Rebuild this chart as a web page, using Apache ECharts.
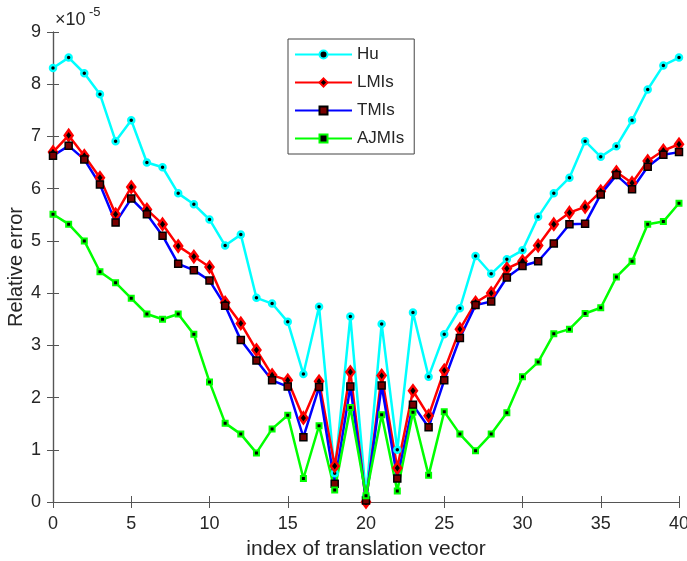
<!DOCTYPE html>
<html>
<head>
<meta charset="utf-8">
<script src="https://cdn.jsdelivr.net/npm/echarts@6/dist/echarts.min.js"></script>
<style>html,body{margin:0;padding:0;background:#fff;}#c{width:687px;height:561px;}</style>
</head>
<body>
<div id="c"></div>
<script>
var xIndex = [];
for (var i = 0; i <= 40; i++) xIndex.push(i);
var hu    = [8.31,8.51,8.21,7.81,6.91,7.31,6.50,6.41,5.91,5.70,5.41,4.91,5.12,3.91,3.80,3.45,2.45,3.74,0.55,3.55,0.10,3.41,1.00,3.63,2.40,3.21,3.71,4.71,4.37,4.65,4.82,5.46,5.91,6.21,6.91,6.61,6.81,7.31,7.90,8.36,8.51];
var lmis  = [6.70,7.02,6.63,6.21,5.51,6.03,5.60,5.32,4.90,4.70,4.50,3.82,3.42,2.91,2.43,2.33,1.61,2.31,0.69,2.49,0.00,2.42,0.65,2.13,1.65,2.52,3.31,3.82,4.00,4.47,4.61,4.91,5.32,5.54,5.65,5.95,6.32,6.11,6.53,6.73,6.85];
var tmis  = [6.63,6.82,6.56,6.08,5.35,5.81,5.51,5.10,4.56,4.44,4.24,3.76,3.10,2.71,2.33,2.21,1.24,2.20,0.35,2.21,0.03,2.23,0.45,1.86,1.43,2.33,3.14,3.77,3.84,4.30,4.52,4.61,4.95,5.32,5.33,5.89,6.26,5.99,6.42,6.65,6.70];
var ajmis = [5.51,5.32,5.00,4.41,4.20,3.90,3.60,3.50,3.60,3.21,2.30,1.51,1.30,0.94,1.40,1.66,0.45,1.46,0.23,1.81,0.12,1.67,0.21,1.72,0.51,1.73,1.30,0.98,1.30,1.71,2.40,2.68,3.22,3.31,3.61,3.72,4.31,4.61,5.32,5.37,5.72];
var seriesNames = ['Hu','LMIs','TMIs','AJMIs'];

var FONT = 'Liberation Sans';
var TXT = '#262626';
var AX = '#555';
function pts(arr){ return arr.map(function(v,i){ return [xIndex[i], v]; }); }

var chart = echarts.init(document.getElementById('c'));
var axisBase = {
  axisLine:{show:true,lineStyle:{color:AX,width:1.2}},
  axisTick:{show:true,inside:true,length:6,lineStyle:{color:AX}},
  splitLine:{show:false}
};
chart.setOption({
  animation:false,
  backgroundColor:'#fff',
  grid:{left:53,right:8,top:32,bottom:59,containLabel:false,outerBoundsMode:'none'},
  graphic:[
    {type:'text',left:55,top:11,style:{text:'×10',font:'18px "Liberation Sans"',fill:TXT}},
    {type:'text',left:89,top:6,style:{text:'-5',font:'13px "Liberation Sans"',fill:TXT}}
  ],
  legend:{
    orient:'vertical',left:288,top:39,
    data:seriesNames,
    itemWidth:57,itemHeight:10,itemGap:11,
    padding:[7,10,7,6],
    borderColor:'#444',borderWidth:1,backgroundColor:'#fff',
    textStyle:{fontFamily:FONT,fontSize:17,color:TXT}
  },
  xAxis:[
    Object.assign({type:'value',min:0,max:40,interval:5,position:'bottom',
      name:'index of translation vector',nameLocation:'middle',nameGap:37,nameMoveOverlap:false,
      nameTextStyle:{fontFamily:FONT,fontSize:21,color:TXT},
      axisLabel:{fontFamily:FONT,fontSize:18,color:TXT,margin:13}},axisBase),
    Object.assign({type:'value',min:0,max:40,interval:5,position:'top',
      axisLabel:{show:false}},axisBase)
  ],
  yAxis:[
    Object.assign({type:'value',min:0,max:9,interval:1,position:'left',
      name:'Relative error',nameLocation:'middle',nameGap:27,nameMoveOverlap:false,
      nameTextStyle:{fontFamily:FONT,fontSize:20,color:TXT},
      axisLabel:{fontFamily:FONT,fontSize:18,color:TXT,margin:12}},axisBase),
    Object.assign({type:'value',min:0,max:9,interval:1,position:'right',
      axisLabel:{show:false}},axisBase)
  ],
  series:[
    {name:'Hu',type:'line',data:pts(hu),symbol:'circle',symbolSize:6,showAllSymbol:true,
      lineStyle:{color:'#00ffff',width:2.5},
      itemStyle:{color:'#000',borderColor:'#00ffff',borderWidth:2.5}},
    {name:'LMIs',type:'line',data:pts(lmis),symbol:'diamond',symbolSize:[8,11],showAllSymbol:true,
      lineStyle:{color:'#ff0000',width:2.5},
      itemStyle:{color:'#000',borderColor:'#ff0000',borderWidth:2.5}},
    {name:'TMIs',type:'line',data:pts(tmis),symbol:'rect',symbolSize:7,showAllSymbol:true,
      lineStyle:{color:'#0000ff',width:2.5},
      itemStyle:{color:'#7a0000',borderColor:'#000',borderWidth:1.5}},
    {name:'AJMIs',type:'line',data:pts(ajmis),symbol:'rect',symbolSize:5,showAllSymbol:true,
      lineStyle:{color:'#00ff00',width:2.5},
      itemStyle:{color:'#000',borderColor:'#00ff00',borderWidth:2}}
  ]
});
</script>
</body>
</html>
